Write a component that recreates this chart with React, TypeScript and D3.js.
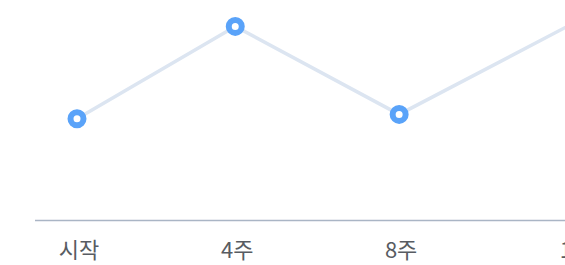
import { useEffect, useRef } from 'react';
import * as d3 from 'd3';

// measurement points (days since start) and scores
const labels = ['시작', '4주', '8주', '12주'];
const days = [0, 28, 57, 89];
const scores = [46, 88, 48, 91];

const W = 565;
const H = 265;

export default function App() {
  const ref = useRef<SVGSVGElement>(null);

  useEffect(() => {
    const svg = d3.select(ref.current);
    svg.selectAll('*').remove();

    const x = d3.scaleLinear().domain([0, 89]).range([77, 580]);
    const y = d3.scaleLinear().domain([0, 100]).range([220, 0]);

    const data = days.map((d, i) => ({ d, v: scores[i], label: labels[i] }));

    // baseline
    svg.append('line')
      .attr('x1', 35).attr('x2', W)
      .attr('y1', 220.5).attr('y2', 220.5)
      .attr('stroke', '#aab5c5')
      .attr('stroke-width', 1.5);

    const line = d3.line<{ d: number; v: number }>()
      .x((p) => x(p.d))
      .y((p) => y(p.v));

    svg.append('path')
      .datum(data)
      .attr('d', line)
      .attr('fill', 'none')
      .attr('stroke', '#dce5f1')
      .attr('stroke-width', 3.5);

    svg.selectAll('circle')
      .data(data)
      .enter()
      .append('circle')
      .attr('cx', (p) => x(p.d))
      .attr('cy', (p) => y(p.v))
      .attr('r', 6.5)
      .attr('fill', '#fff')
      .attr('stroke', '#5aa3f9')
      .attr('stroke-width', 6);

    svg.selectAll('text.lbl')
      .data(data)
      .enter()
      .append('text')
      .attr('class', 'lbl')
      .attr('x', (p) => x(p.d) + 2)
      .attr('y', 258)
      .attr('text-anchor', 'middle')
      .attr('font-family', '"Noto Sans CJK KR", "Noto Sans", sans-serif')
      .attr('font-size', 22)
      .attr('fill', '#585c62')
      .text((p) => p.label);
  }, []);

  return (
    <svg
      ref={ref}
      width={W}
      height={H}
      style={{ position: 'fixed', left: 0, top: 0, display: 'block', background: '#fff' }}
    />
  );
}
